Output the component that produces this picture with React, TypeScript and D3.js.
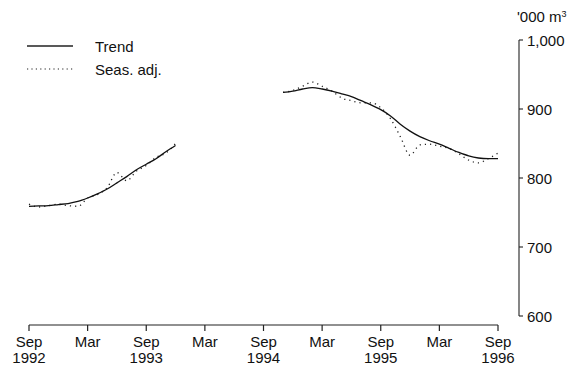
import React from "react";
import * as d3 from "d3";

const months = [
  "Sep","Oct","Nov","Dec","Jan","Feb","Mar","Apr","May","Jun","Jul","Aug",
];
const tickMonths = ["Sep", "Mar", "Sep", "Mar", "Sep", "Mar", "Sep", "Mar", "Sep"];
const tickYears = ["1992", "", "1993", "", "1994", "", "1995", "", "1996"];
const yTicks = [600, 700, 800, 900, 1000];

const trend: (number | null)[] = [
  759, 759.5, 760, 761.5, 763, 766, 771, 777, 784, 793, 802, 812, 820, 828, 838, 847,
  null, null, null, null, null, null, null, null, null, null,
  924, 926, 929, 931, 929, 926, 922, 918, 912, 906, 899, 890, 878, 868, 860, 854,
  849, 843, 837, 832, 829, 828, 828,
];
const seasAdj: (number | null)[] = [
  762, 758, 760, 762, 760, 759, 771, 776, 786, 808, 796, 810, 818, 830, 836, 850,
  null, null, null, null, null, null, null, null, null, null,
  924, 927, 933, 939, 933, 926, 916, 912, 909, 909, 902, 886, 860, 833, 848, 849,
  846, 843, 835, 826, 822, 828, 836,
];

const FONT = "'Liberation Sans', Arial, Helvetica, sans-serif";

export default function App() {
  const W = 584, H = 380;
  const x = d3.scaleLinear().domain([0, 48]).range([29, 498]);
  const y = d3.scaleLinear().domain([600, 1000]).range([316, 40]);
  const axisY = 325;
  const yAxisX = 519;

  const line = d3
    .line<number | null>()
    .defined((d) => d != null)
    .x((_, i) => x(i))
    .y((d) => y(d as number))
    .curve(d3.curveMonotoneX);

  const tickIdx = tickMonths.map((_, k) => k * 6);

  return (
    <svg
      width={W}
      height={H}
      style={{ position: "absolute", left: 0, top: 0, background: "#fff" }}
      fontFamily={FONT}
    >
      <rect width={W} height={H} fill="#fff" />
      {/* legend */}
      <line x1={27} x2={73} y1={46} y2={46} stroke="#222" strokeWidth={1.3} />
      <text x={95} y={51.5} fontSize={15} fill="#111">Trend</text>
      <line x1={27} x2={73} y1={69} y2={69} stroke="#222" strokeWidth={1.2} strokeDasharray="1.2,3.2" />
      <text x={95} y={74.5} fontSize={15} fill="#111">Seas. adj.</text>

      {/* series */}
      <path d={line(seasAdj) || ""} fill="none" stroke="#222" strokeWidth={1.3} strokeDasharray="1.2,4" />
      <path d={line(trend) || ""} fill="none" stroke="#111" strokeWidth={1.3} />

      {/* x axis */}
      <line x1={x(0)} x2={x(48)} y1={axisY} y2={axisY} stroke="#222" strokeWidth={1.2} />
      {tickIdx.map((i, k) => (
        <g key={k}>
          <line x1={x(i)} x2={x(i)} y1={axisY} y2={axisY + 6} stroke="#222" strokeWidth={1.2} />
          <text x={x(i)} y={346.5} fontSize={15} textAnchor="middle" fill="#111">
            {tickMonths[k]}
          </text>
          {tickYears[k] && (
            <text x={x(i)} y={362.5} fontSize={15} textAnchor="middle" fill="#111">
              {tickYears[k]}
            </text>
          )}
        </g>
      ))}

      {/* y axis */}
      <line x1={yAxisX} x2={yAxisX} y1={y(1000)} y2={y(600)} stroke="#222" strokeWidth={1.1} />
      {yTicks.map((t) => (
        <g key={t}>
          <line x1={yAxisX} x2={yAxisX + 4} y1={y(t)} y2={y(t)} stroke="#222" strokeWidth={1.1} />
          <text x={527} y={y(t) + 5.5} fontSize={15} fill="#111">
            {d3.format(",")(t)}
          </text>
        </g>
      ))}
      <text x={517} y={22} fontSize={15} fill="#111">
        '000 m<tspan fontSize={9} dy={-5}>3</tspan>
      </text>
      <desc>{months.join(",")}</desc>
    </svg>
  );
}
